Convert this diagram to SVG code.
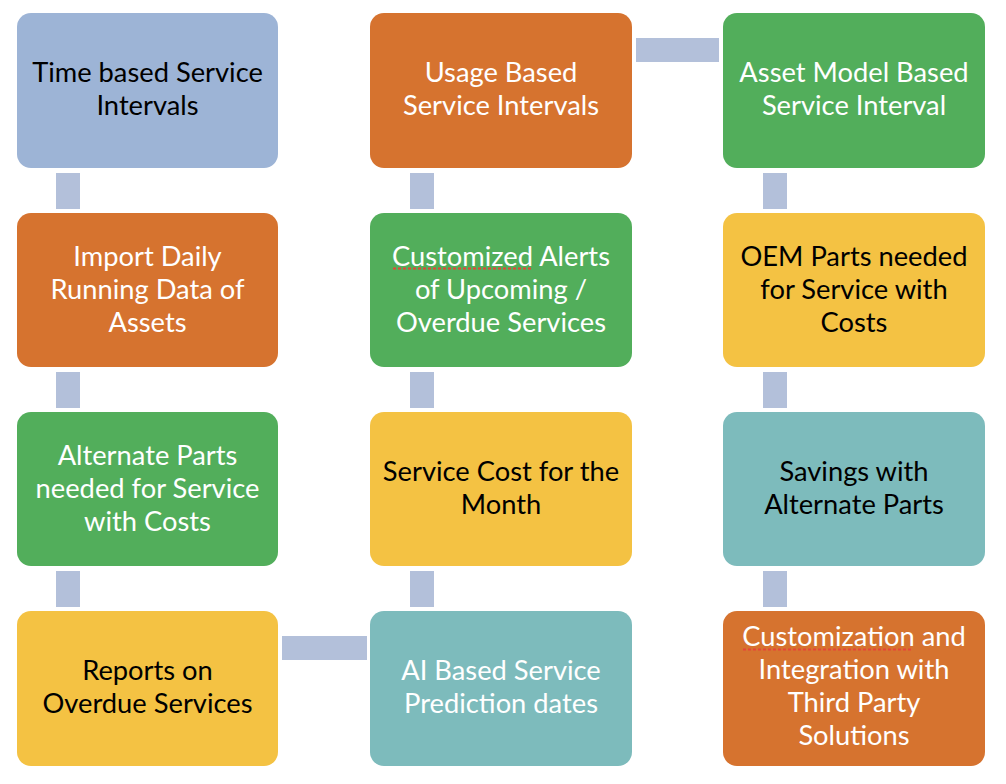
<svg xmlns="http://www.w3.org/2000/svg" width="1006" height="784" viewBox="0 0 1006 784">
<style>
.box{stroke:none}
.blue{fill:#9DB4D6}.orange{fill:#D6732F}.green{fill:#52AE5B}.yellow{fill:#F4C243}.teal{fill:#7DBBBC}
text{font-family:Lato,"Liberation Sans",sans-serif;font-size:27.3px;text-anchor:middle}
.w{fill:#FFFFFF}.k{fill:#000000}
.conn rect{fill:#B3C0DA}
.spell{fill:none;stroke:#E5453A;stroke-width:2;stroke-dasharray:3 2}
</style>
<rect width="1006" height="784" fill="#FFFFFF"/>
<g id="connectors" class="conn">
<rect x="56" y="173" width="24" height="36"/>
<rect x="56" y="372" width="24" height="36"/>
<rect x="56" y="571" width="24" height="36"/>
<rect x="410" y="173" width="24" height="36"/>
<rect x="410" y="372" width="24" height="36"/>
<rect x="410" y="571" width="24" height="36"/>
<rect x="763" y="173" width="24" height="36"/>
<rect x="763" y="372" width="24" height="36"/>
<rect x="763" y="571" width="24" height="36"/>
<rect x="636" y="38" width="83" height="24"/>
<rect x="282" y="636" width="85" height="24"/>
</g>
<g id="n1"><rect class="box blue" x="17" y="13" width="261" height="155" rx="14"/>
<text class="k" x="147.5"><tspan x="147.5" y="82">Time based Service</tspan><tspan x="147.5" y="115">Intervals</tspan></text></g>
<g id="n2"><rect class="box orange" x="17" y="213" width="261" height="154" rx="14"/>
<text class="w"><tspan x="147.5" y="266">Import Daily</tspan><tspan x="147.5" y="299">Running Data of</tspan><tspan x="147.5" y="332">Assets</tspan></text></g>
<g id="n3"><rect class="box green" x="17" y="412" width="261" height="154" rx="14"/>
<text class="w"><tspan x="147.5" y="465">Alternate Parts</tspan><tspan x="147.5" y="498">needed for Service</tspan><tspan x="147.5" y="531">with Costs</tspan></text></g>
<g id="n4"><rect class="box yellow" x="17" y="611" width="261" height="155" rx="14"/>
<text class="k"><tspan x="147.5" y="680">Reports on</tspan><tspan x="147.5" y="713">Overdue Services</tspan></text></g>
<g id="n5"><rect class="box orange" x="370" y="13" width="262" height="155" rx="14"/>
<text class="w"><tspan x="501" y="82">Usage Based</tspan><tspan x="501" y="115">Service Intervals</tspan></text></g>
<g id="n6"><rect class="box green" x="370" y="213" width="262" height="154" rx="14"/>
<text class="w"><tspan x="501" y="266">Customized Alerts</tspan><tspan x="501" y="299">of Upcoming /</tspan><tspan x="501" y="332">Overdue Services</tspan></text>
<path class="spell" d="M393 268.5 H532"/></g>
<g id="n7"><rect class="box yellow" x="370" y="412" width="262" height="154" rx="14"/>
<text class="k"><tspan x="501" y="481">Service Cost for the</tspan><tspan x="501" y="514">Month</tspan></text></g>
<g id="n8"><rect class="box teal" x="370" y="611" width="262" height="155" rx="14"/>
<text class="w"><tspan x="501" y="680">AI Based Service</tspan><tspan x="501" y="713">Prediction dates</tspan></text></g>
<g id="n9"><rect class="box green" x="723" y="13" width="262" height="155" rx="14"/>
<text class="w"><tspan x="854" y="82">Asset Model Based</tspan><tspan x="854" y="115">Service Interval</tspan></text></g>
<g id="n10"><rect class="box yellow" x="723" y="213" width="262" height="154" rx="14"/>
<text class="k"><tspan x="854" y="266">OEM Parts needed</tspan><tspan x="854" y="299">for Service with</tspan><tspan x="854" y="332">Costs</tspan></text></g>
<g id="n11"><rect class="box teal" x="723" y="412" width="262" height="154" rx="14"/>
<text class="k"><tspan x="854" y="481">Savings with</tspan><tspan x="854" y="514">Alternate Parts</tspan></text></g>
<g id="n12"><rect class="box orange" x="723" y="611" width="262" height="155" rx="14"/>
<text class="w"><tspan x="854" y="646">Customization and</tspan><tspan x="854" y="679">Integration with</tspan><tspan x="854" y="712">Third Party</tspan><tspan x="854" y="745">Solutions</tspan></text>
<path class="spell" d="M743 649.5 H913"/></g>
</svg>
